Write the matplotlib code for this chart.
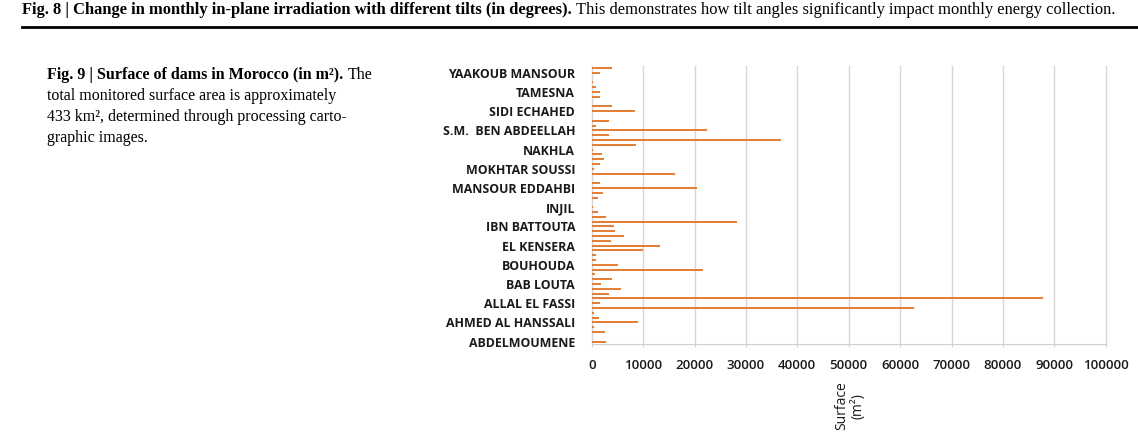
import matplotlib
matplotlib.use("Agg")
import matplotlib.pyplot as plt
import numpy as np

# ---- data (bottom-to-top category order) ----
surface_m2 = [2810, 140, 2600, 410, 9040, 1440, 410, 62740, 1640, 87740,
              3360, 5620, 1850, 3970, 550, 21640, 5070, 750, 890, 9930,
              13220, 3770, 6370, 4590, 4380, 28290, 2740, 1230, 340, 140,
              1160, 2190, 20480, 1580, 0, 16160, 410, 1640, 2330, 1990,
              340, 8700, 36780, 3360, 22470, 750, 3290, 0, 8420, 3970,
              100, 1580, 1580, 750, 270, 0, 1640, 4040]
label_positions = [0, 4, 8, 12, 16, 20, 24, 28, 32, 36, 40, 44, 48, 52, 56]
dam_labels = ["ABDELMOUMENE", "AHMED AL HANSSALI", "ALLAL EL FASSI", "BAB LOUTA",
              "BOUHOUDA", "EL KENSERA", "IBN BATTOUTA", "INJIL", "MANSOUR EDDAHBI",
              "MOKHTAR SOUSSI", "NAKHLA", "S.M.  BEN ABDEELLAH", "SIDI ECHAHED",
              "TAMESNA", "YAAKOUB MANSOUR"]
x_ticks = [0, 10000, 20000, 30000, 40000, 50000, 60000, 70000, 80000, 90000, 100000]

W, H = 1138, 441
fig = plt.figure(figsize=(W / 100, H / 100), dpi=100)
fig.patch.set_facecolor("white")

# ---- chart ----
left, right, top, bottom = 591.7, 1105.7, 65.6, 344.0
ax = fig.add_axes([left / W, 1 - bottom / H, (right - left) / W, (bottom - top) / H])
y = np.arange(len(surface_m2))
ax.barh(y, surface_m2, height=0.42, color="#E57E36", zorder=3)
ax.set_xlim(0, 100000)
ax.set_ylim(-0.5, len(surface_m2) - 0.5)
ax.set_xticks(x_ticks)
ax.set_xticklabels([str(v) for v in x_ticks], fontsize=9.5, family="Open Sans",
                   fontweight="semibold", color="#1a1a1a")
ax.set_yticks(label_positions)
ax.set_yticklabels(dam_labels, fontsize=8.9, family="Open Sans", fontweight="bold",
                   color="#1a1a1a")
ax.tick_params(axis="y", length=0, pad=12)
ax.tick_params(axis="x", length=2.5, color="#d0d0d0", pad=8)
for s in ["top", "right", "left"]:
    ax.spines[s].set_visible(False)
ax.spines["bottom"].set_color("#d0d0d0")
ax.grid(axis="x", color="#d6d6d6", linewidth=1.0, zorder=0)
for gl in ax.get_xgridlines():
    gl.set_clip_on(False)

fig.text(850 / W, 1 - 406 / H, "Surface\n(m²)", rotation=90, ha="center", va="center",
         fontsize=10, family="Open Sans", color="#1a1a1a", linespacing=1.05)

# ---- captions ----
renderer = fig.canvas.get_renderer()


def runs(x_px, y_px, parts, size):
    x = x_px
    for txt, weight in parts:
        t = fig.text(x / W, 1 - y_px / H, txt, fontsize=size, family="Liberation Serif",
                     fontweight=weight, va="center", ha="left", color="black")
        bb = t.get_window_extent(renderer)
        x = bb.x1 + size * 0.25 * 100 / 72


runs(22, 10, [("Fig. 8 | Change in monthly in-plane irradiation with different tilts (in degrees).", "bold"),
              ("This demonstrates how tilt angles significantly impact monthly energy collection.", "normal")],
     11.85)
fig.add_artist(plt.Line2D([22 / W, 1.0], [1 - 27 / H, 1 - 27 / H], color="black",
                          linewidth=2.0, transform=fig.transFigure))

runs(47, 75, [("Fig. 9 | Surface of dams in Morocco (in m²).", "bold"), ("The", "normal")], 11.5)
runs(47, 96, [("total monitored surface area is approximately", "normal")], 11.5)
runs(47, 117, [("433 km², determined through processing carto-", "normal")], 11.5)
runs(47, 138, [("graphic images.", "normal")], 11.5)

fig.savefig("out.png", dpi=100, facecolor="white")
